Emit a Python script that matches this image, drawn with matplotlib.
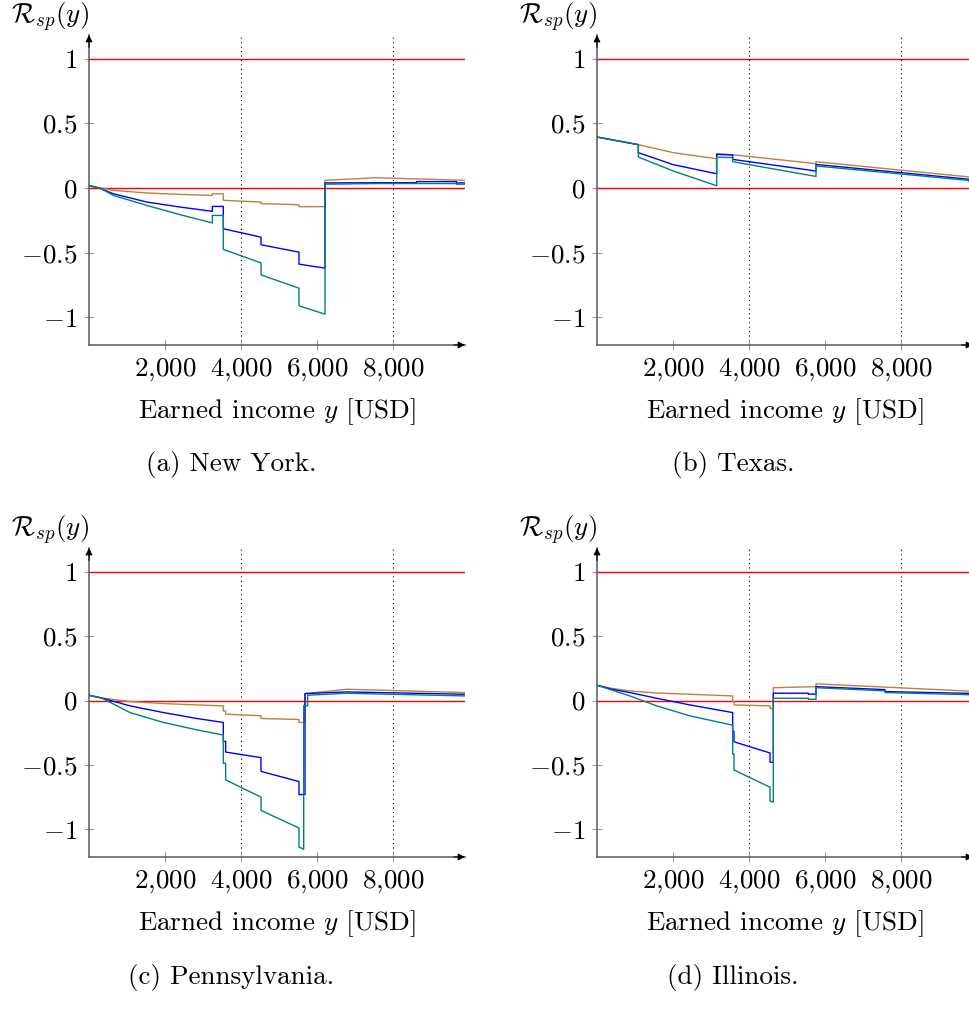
"""Relative support R_sp(y) over earned income for four states."""

import matplotlib
matplotlib.use("Agg")
import matplotlib.pyplot as plt

BROWN = "#bf8040"
BLUE = "#0000ff"
TEAL = "#008080"
RED = "#ff0000"
AXIS = "#666666"

FS = 19.5

plt.rcParams.update({
    "font.family": "cmr10",
    "mathtext.fontset": "cm",
    "axes.unicode_minus": False,
    "font.size": FS,
})

# ── data (income in USD, R_sp value) ─────────────────────────────────────────

NY_X_BROWN = [0, 333, 640, 1518, 2395, 3246, 3246, 3535, 3535, 4526, 4526, 5526, 5526, 6211, 6211, 7570, 9900]
NY_Y_BROWN = [0.02, 0.0, -0.018, -0.038, -0.049, -0.057, -0.044, -0.044, -0.095, -0.108, -0.121, -0.129, -0.144, -0.144, 0.06, 0.08, 0.06]
NY_X_BLUE = [0, 333, 640, 1518, 2395, 3246, 3246, 3535, 3535, 4526, 4526, 5526, 5526, 6211, 6211, 8620, 8620, 9670, 9670, 9900]
NY_Y_BLUE = [0.02, -0.007, -0.044, -0.108, -0.147, -0.18, -0.142, -0.142, -0.315, -0.38, -0.439, -0.496, -0.589, -0.62, 0.04, 0.042, 0.05, 0.05, 0.04, 0.04]
NY_X_TEAL = [0, 333, 640, 1518, 2395, 3246, 3246, 3535, 3535, 4526, 4526, 5526, 5526, 6211, 6211, 7526, 9670, 9670, 9900]
NY_Y_TEAL = [0.02, -0.007, -0.057, -0.134, -0.206, -0.27, -0.212, -0.212, -0.475, -0.579, -0.672, -0.775, -0.912, -0.976, 0.03, 0.035, 0.035, 0.03, 0.03]

TX_X_BROWN = [0, 1088, 2009, 3149, 3149, 3570, 5763, 5763, 9900]
TX_Y_BROWN = [0.395, 0.336, 0.274, 0.227, 0.266, 0.258, 0.189, 0.204, 0.083]
TX_X_BLUE = [0, 1088, 1088, 2009, 3149, 3149, 3570, 3570, 5763, 5763, 9900]
TX_Y_BLUE = [0.395, 0.336, 0.274, 0.181, 0.111, 0.261, 0.256, 0.222, 0.132, 0.183, 0.065]
TX_X_TEAL = [0, 1088, 1088, 2009, 3149, 3149, 3570, 3570, 5763, 5763, 9790, 9790, 9900]
TX_Y_TEAL = [0.395, 0.336, 0.24, 0.132, 0.018, 0.24, 0.236, 0.204, 0.09, 0.171, 0.059, 0.05, 0.05]

PA_X_BROWN = [0, 333, 1079, 1956, 2833, 3535, 3535, 3596, 3596, 4526, 4526, 5526, 5526, 5684, 5684, 6781, 9900]
PA_Y_BROWN = [0.041, 0.02, -0.008, -0.023, -0.034, -0.041, -0.08, -0.08, -0.106, -0.118, -0.139, -0.147, -0.17, -0.17, 0.054, 0.088, 0.062]
PA_X_BLUE = [0, 333, 1079, 1956, 2833, 3535, 3535, 3596, 3596, 4526, 4526, 5526, 5526, 5640, 5684, 5684, 6781, 9900]
PA_Y_BLUE = [0.041, 0.02, -0.041, -0.093, -0.139, -0.17, -0.317, -0.317, -0.40, -0.443, -0.55, -0.629, -0.73, -0.73, -0.73, 0.054, 0.067, 0.049]
PA_X_TEAL = [0, 333, 1079, 1956, 2833, 3535, 3535, 3596, 3596, 4526, 4526, 5526, 5526, 5650, 5650, 5754, 5754, 6781, 9900]
PA_Y_TEAL = [0.041, 0.02, -0.093, -0.17, -0.227, -0.268, -0.487, -0.487, -0.616, -0.75, -0.853, -0.99, -1.137, -1.155, -0.04, -0.04, 0.041, 0.057, 0.036]

IL_X_BROWN = [0, 386, 868, 1570, 2447, 3570, 3570, 3605, 3605, 4553, 4553, 4640, 4640, 5763, 5763, 9900]
IL_Y_BROWN = [0.119, 0.095, 0.075, 0.059, 0.049, 0.036, -0.008, -0.008, -0.034, -0.041, -0.062, -0.062, 0.10, 0.108, 0.13, 0.072]
IL_X_BLUE = [0, 386, 868, 1570, 2447, 3570, 3570, 3605, 3605, 4553, 4553, 4640, 4640, 5561, 5561, 5763, 5763, 7580, 7580, 9900]
IL_Y_BLUE = [0.119, 0.088, 0.062, 0.018, -0.034, -0.093, -0.24, -0.24, -0.32, -0.407, -0.479, -0.479, 0.057, 0.057, 0.05, 0.05, 0.108, 0.085, 0.07, 0.055]
IL_X_TEAL = [0, 386, 868, 1570, 2447, 3570, 3570, 3605, 3605, 4553, 4553, 4640, 4640, 5561, 5561, 5763, 5763, 7580, 7580, 9900]
IL_Y_TEAL = [0.119, 0.082, 0.036, -0.041, -0.119, -0.191, -0.415, -0.415, -0.539, -0.673, -0.78, -0.789, 0.018, 0.018, 0.01, 0.01, 0.10, 0.075, 0.062, 0.045]

X_TICKS = [2000, 4000, 6000, 8000]
X_TICK_LABELS = [r"$2{,}000$", r"$4{,}000$", r"$6{,}000$", r"$8{,}000$"]
Y_TICKS = [-1, -0.5, 0, 0.5, 1]
Y_TICK_LABELS = [r"$-1$", r"$-0.5$", r"$0$", r"$0.5$", r"$1$"]

PANELS = [
    ("(a) New York.", (NY_X_BROWN, NY_Y_BROWN), (NY_X_BLUE, NY_Y_BLUE), (NY_X_TEAL, NY_Y_TEAL)),
    ("(b) Texas.", (TX_X_BROWN, TX_Y_BROWN), (TX_X_BLUE, TX_Y_BLUE), (TX_X_TEAL, TX_Y_TEAL)),
    ("(c) Pennsylvania.", (PA_X_BROWN, PA_Y_BROWN), (PA_X_BLUE, PA_Y_BLUE), (PA_X_TEAL, PA_Y_TEAL)),
    ("(d) Illinois.", (IL_X_BROWN, IL_Y_BROWN), (IL_X_BLUE, IL_Y_BLUE), (IL_X_TEAL, IL_Y_TEAL)),
]

W, H = 969, 1013
XMAX = 9895
YMIN, YMAX = -1.215, 1.185

# pixel boxes (left, top-of-axes, bottom-of-axes) of each panel
BOXES = [(89, 35, 345), (597, 35, 345), (89, 548, 857), (597, 548, 857)]
AX_W = 376
CAPTION_X = [231, 733, 231, 733]
CAPTION_Y = [465, 465, 977, 977]

fig = plt.figure(figsize=(W / 100, H / 100), dpi=100)

for i, (caption, brown, blue, teal) in enumerate(PANELS):
    left, top, bottom = BOXES[i]
    ax = fig.add_axes([left / W, 1 - bottom / H, AX_W / W, (bottom - top) / H])

    ax.axhline(1, color=RED, lw=1.0, zorder=2)
    ax.axhline(0, color=RED, lw=1.0, zorder=2)
    for xv in (4000, 8000):
        ax.axvline(xv, color="black", lw=0.8, ls=(0, (1, 3)), zorder=1)

    ax.plot(*brown, color=BROWN, lw=1.0, zorder=3)
    ax.plot(*blue, color=BLUE, lw=1.0, zorder=4)
    ax.plot(*teal, color=TEAL, lw=1.0, zorder=5)

    ax.set_xlim(0, XMAX)
    ax.set_ylim(YMIN, YMAX)
    ax.set_xticks(X_TICKS)
    ax.set_xticklabels(X_TICK_LABELS)
    ax.set_yticks(Y_TICKS)
    ax.set_yticklabels(Y_TICK_LABELS)
    ax.tick_params(direction="inout", length=7, width=0.8, color="#999999",
                   labelsize=FS, pad=5)

    for side in ("top", "right"):
        ax.spines[side].set_visible(False)
    for side in ("left", "bottom"):
        ax.spines[side].set_color(AXIS)
        ax.spines[side].set_linewidth(1.2)
    ax.patch.set_visible(False)

    # arrow heads on the axes
    ax.annotate("", xy=(1.0, 0), xytext=(0.97, 0), xycoords="axes fraction",
                arrowprops=dict(arrowstyle="-|>", color="black", lw=0.8,
                                mutation_scale=10, shrinkA=0, shrinkB=0))
    ax.annotate("", xy=(0, 1.0), xytext=(0, 0.96), xycoords="axes fraction",
                arrowprops=dict(arrowstyle="-|>", color="black", lw=0.8,
                                mutation_scale=10, shrinkA=0, shrinkB=0))

    ax.text(-0.105, 1.057, r"$\mathcal{R}_{sp}(y)$", transform=ax.transAxes,
            ha="center", va="center", fontsize=FS)
    ax.text(0.5, -0.215, r"Earned income $y$ [USD]", transform=ax.transAxes,
            ha="center", va="center", fontsize=FS)

    fig.text(CAPTION_X[i] / W, 1 - CAPTION_Y[i] / H, caption,
             ha="center", va="center", fontsize=FS)

fig.savefig("out.png", dpi=100)
plt.close(fig)
print("Saved out.png")
